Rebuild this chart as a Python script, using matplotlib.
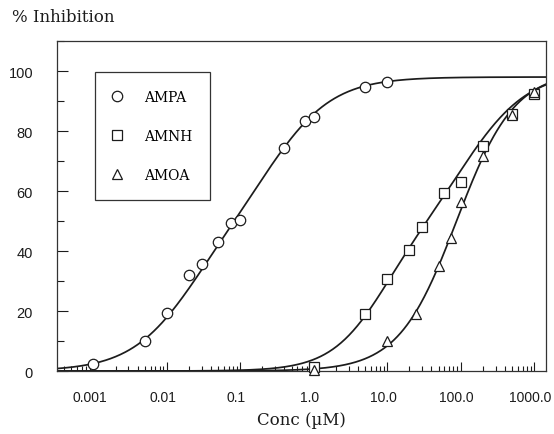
import numpy as np
import matplotlib
matplotlib.use("Agg")
import matplotlib.pyplot as plt
import matplotlib.transforms as mtransforms
from matplotlib.ticker import LogLocator, FixedLocator, FixedFormatter, NullFormatter, MultipleLocator

# ---- data ----
ampa_conc = [0.001, 0.005, 0.01, 0.02, 0.03, 0.05, 0.075, 0.1, 0.4, 0.75, 1.0, 5.0, 10.0]
ampa_inh = [2.3, 10.1, 19.3, 32.1, 35.6, 43.0, 49.4, 50.4, 74.2, 83.4, 84.6, 94.6, 96.4]

amnh_conc = [1.0, 5.0, 10.0, 20.0, 30.0, 60.0, 100.0, 200.0, 500.0, 1000.0]
amnh_inh = [1.2, 19.0, 30.7, 40.4, 48.1, 59.3, 63.1, 75.0, 85.8, 92.2]

amoa_conc = [1.0, 10.0, 25.0, 50.0, 75.0, 100.0, 200.0, 500.0, 1000.0]
amoa_inh = [0.4, 10.1, 19.0, 35.1, 44.2, 56.2, 71.6, 85.4, 92.9]

# fitted dose-response curve parameters (top, fraction, EC1, n1, EC2, n2)
ampa_fit = (98.0, 0.5, 0.02, 1.0, 0.3, 1.0)
amnh_fit = (100.0, 0.45, 8.0, 1.2, 130.0, 1.0)
amoa_fit = (100.0, 1.0, 88.0, 1.1, 1.0, 1.0)

series_names = ["AMPA", "AMNH", "AMOA"]
x_tick_values = [0.001, 0.01, 0.1, 1.0, 10.0, 100.0, 1000.0]
x_tick_labels = ["0.001", "0.01", "0.1", "1.0", "10.0", "100.0", "1000.0"]
y_tick_values = [0, 20, 40, 60, 80, 100]


def response(x, top, frac, ec1, n1, ec2, n2):
    h1 = x ** n1 / (x ** n1 + ec1 ** n1)
    h2 = x ** n2 / (x ** n2 + ec2 ** n2)
    return top * (frac * h1 + (1 - frac) * h2)


fig = plt.figure(figsize=(5.54, 4.35), dpi=100)
ax = fig.add_axes([0.1023, 0.1448, 0.8833, 0.7586])

xmin, xmax = 10 ** -3.5, 10 ** 3.163
ax.set_xscale("log")
ax.set_xlim(xmin, xmax)
ax.set_ylim(0, 110)

ink = "#1c1c1c"
xs = np.logspace(np.log10(xmin), np.log10(xmax), 600)
for fit in (ampa_fit, amnh_fit, amoa_fit):
    ax.plot(xs, response(xs, *fit), color=ink, lw=1.25, zorder=2)

mk = dict(ls="none", mfc="white", mec=ink, mew=0.9, ms=7.5, zorder=3, clip_on=False)
ax.plot(ampa_conc, ampa_inh, marker="o", label=series_names[0], **mk)
ax.plot(amnh_conc, amnh_inh, marker="s", label=series_names[1], **mk)
ax.plot(amoa_conc, amoa_inh, marker="^", label=series_names[2], **mk)

# ticks
ax.xaxis.set_major_locator(FixedLocator(x_tick_values))
ax.xaxis.set_major_formatter(FixedFormatter(x_tick_labels))
ax.xaxis.set_minor_locator(LogLocator(base=10, subs=np.arange(2, 10), numticks=20))
ax.xaxis.set_minor_formatter(NullFormatter())
ax.yaxis.set_major_locator(FixedLocator(y_tick_values))
ax.yaxis.set_minor_locator(MultipleLocator(10))

ax.tick_params(axis="x", which="major", direction="in", length=6.5, width=0.8,
               pad=14, colors=ink, labelsize=10)
ax.tick_params(axis="x", which="minor", direction="in", length=3.6, width=0.8, colors=ink)
ax.tick_params(axis="y", which="major", direction="in", length=8, width=0.8,
               pad=17, colors=ink, labelsize=10.5)
ax.tick_params(axis="y", which="minor", direction="in", length=5, width=0.8, colors=ink)
ax.tick_params(top=False, right=False, which="both")
for lab in ax.get_xticklabels() + ax.get_yticklabels():
    lab.set_fontfamily("Liberation Sans")
shift = mtransforms.ScaledTranslation(-4 / 100, 0, fig.dpi_scale_trans)
for lab in ax.get_xticklabels():
    lab.set_transform(lab.get_transform() + shift)

for s in ax.spines.values():
    s.set_linewidth(0.9)
    s.set_color("#333333")

ax.set_xlabel("Conc (\u00b5M)", fontfamily="DejaVu Serif", fontsize=12, color=ink, va="center")
ax.xaxis.set_label_coords(0.5, -0.148)
ax.set_ylabel("% Inhibition", fontfamily="DejaVu Serif", fontsize=12, color=ink,
              rotation=0, ha="left", va="center")
ax.yaxis.set_label_coords(-0.0914, 1.0758)

leg = ax.legend(loc="upper left", bbox_to_anchor=(0.0783, 0.906), borderaxespad=0,
                borderpad=1.3, labelspacing=1.8, handlelength=0.6,
                handletextpad=1.6, fancybox=False, framealpha=1, edgecolor="#333333",
                prop={"family": "DejaVu Serif", "size": 10})
leg.get_frame().set_linewidth(0.9)

fig.savefig("out.png", dpi=100)
